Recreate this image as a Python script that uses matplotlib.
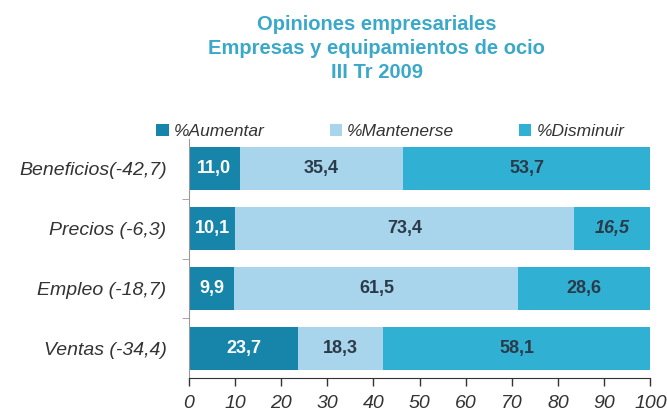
import matplotlib.pyplot as plt
import numpy as np
from matplotlib.ticker import FixedLocator

plt.rcParams['font.family'] = ['Liberation Sans', 'DejaVu Sans']

categorias = ['Beneficios(-42,7)', 'Precios (-6,3)', 'Empleo (-18,7)', 'Ventas (-34,4)']
aumentar = [11.0, 10.1, 9.9, 23.7]
mantenerse = [35.4, 73.4, 61.5, 18.3]
disminuir = [53.7, 16.5, 28.6, 58.1]
series_nombres = ['%Aumentar', '%Mantenerse', '%Disminuir']
colores = ['#1784aa', '#a8d5eb', '#30b0d2']

fig = plt.figure(figsize=(6.67, 4.19), dpi=100)
ax = fig.add_axes([0.283, 0.098, 0.692, 0.57])

y = np.arange(len(categorias))
izq = np.zeros(len(categorias))
for vals, nombre, col in zip([aumentar, mantenerse, disminuir], series_nombres, colores):
    ax.barh(y, vals, left=izq, height=0.72, color=col, label=nombre)
    for i, v in enumerate(vals):
        txt_col = 'white' if nombre == '%Aumentar' else '#2b3a48'
        estilo = 'italic' if (nombre == '%Disminuir' and i == 1) else 'normal'
        ax.text(izq[i] + v / 2, y[i], f'{v:.1f}'.replace('.', ','), ha='center', va='center',
                fontsize=13, fontweight='bold', color=txt_col, style=estilo)
    izq = izq + np.array(vals)

ax.set_xlim(0, 100)
ax.set_ylim(3.5, -0.5)
ax.set_xticks(np.arange(0, 101, 10))
ax.tick_params(axis='x', direction='out', length=6, width=1, pad=6, labelsize=14, color='#333333')
for lab in ax.get_xticklabels():
    lab.set_style('italic')
    lab.set_color('#333333')

ax.set_yticks(y)
ax.set_yticklabels(categorias, fontsize=14, style='italic', color='#333333')
ax.tick_params(axis='y', length=0, pad=16)
ax.yaxis.set_minor_locator(FixedLocator([0.5, 1.5, 2.5]))
ax.tick_params(axis='y', which='minor', length=5, color='#999999', direction='out')

for s in ['top', 'right']:
    ax.spines[s].set_visible(False)
ax.spines['left'].set_color('#999999')
ax.spines['bottom'].set_color('#333333')
ax.spines['left'].set_bounds(-0.5, 3.5)

leg = ax.legend(loc='lower left', bbox_to_anchor=(-0.085, 0.97), ncol=3, frameon=False,
                handlelength=0.7, handleheight=0.7, handletextpad=0.3, columnspacing=3.75,
                borderaxespad=0, prop={'size': 12.5, 'style': 'italic'})
for t in leg.get_texts():
    t.set_color('#333333')

fig.text(0.565, 0.965, 'Opiniones empresariales\nEmpresas y equipamientos de ocio\nIII Tr 2009',
         ha='center', va='top', fontsize=14.5, fontweight='bold', color='#3aa8c9', linespacing=1.35)

fig.savefig('out.png', dpi=100)
